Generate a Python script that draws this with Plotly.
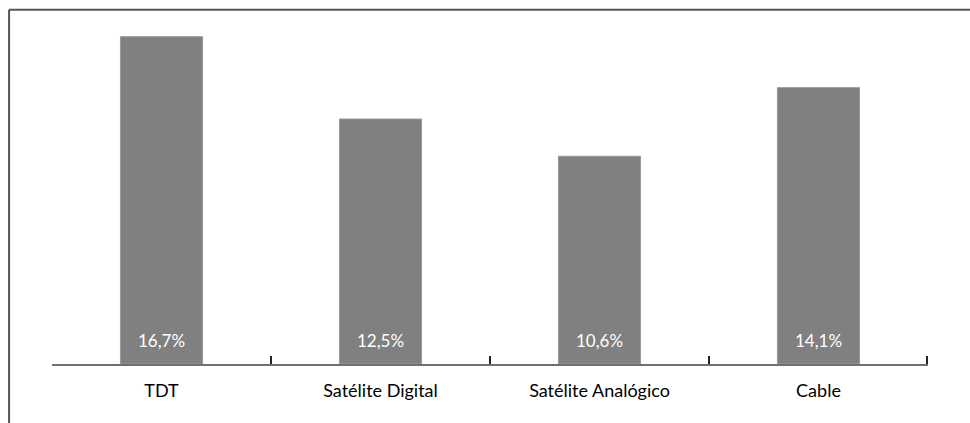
import plotly.graph_objects as go

# Cuota por plataforma de recepción
categorias = ["TDT", "Satélite Digital", "Satélite Analógico", "Cable"]
valores = [16.7, 12.5, 10.6, 14.1]
etiquetas = ["16,7%", "12,5%", "10,6%", "14,1%"]

fig = go.Figure()

fig.add_trace(go.Bar(
    x=categorias,
    y=valores,
    marker=dict(color="#808080", line=dict(color="#9a9a9a", width=1)),
    width=0.375,
    hoverinfo="skip",
))

# Porcentajes dentro de cada barra, junto a la base
for cat, val, txt in zip(categorias, valores, etiquetas):
    fig.add_annotation(
        x=cat, y=0, text=txt, showarrow=False,
        yanchor="bottom", yshift=11,
        font=dict(family="Lato, sans-serif", size=17, color="white"),
    )

# Eje auxiliar para las marcas entre categorías
fig.add_trace(go.Scatter(
    x=[-0.5, 3.5], y=[0, 0], xaxis="x2", mode="markers",
    marker=dict(opacity=0), hoverinfo="skip", showlegend=False,
))

fig.update_layout(
    width=970, height=423,
    margin=dict(l=52, r=42, t=21, b=59),
    paper_bgcolor="white", plot_bgcolor="white",
    showlegend=False,
    xaxis=dict(
        showline=False, ticks="", showgrid=False,
        tickfont=dict(family="Lato, sans-serif", size=18, color="black"),
        ticklabelstandoff=14,
        range=[-0.5, 3.5],
    ),
    xaxis2=dict(
        overlaying="x", side="bottom", range=[-0.5, 3.5],
        tickvals=[0.5, 1.5, 2.5, 3.494], ticks="inside", ticklen=8,
        tickwidth=2, tickcolor="#222", showticklabels=False,
        showline=True, linecolor="#707070", linewidth=2,
        showgrid=False, zeroline=False,
    ),
    yaxis=dict(
        range=[0, 17.5], visible=False, showgrid=False, zeroline=False,
    ),
    shapes=[
        # marco superior e izquierdo
        dict(type="line", xref="paper", yref="paper",
             x0=-0.049, x1=1.1, y0=1.033, y1=1.033,
             line=dict(color="#555555", width=2)),
        dict(type="line", xref="paper", yref="paper",
             x0=-0.049, x1=-0.049, y0=1.033, y1=-0.3,
             line=dict(color="#555555", width=2)),
    ],
)

fig.write_html("out.html")
